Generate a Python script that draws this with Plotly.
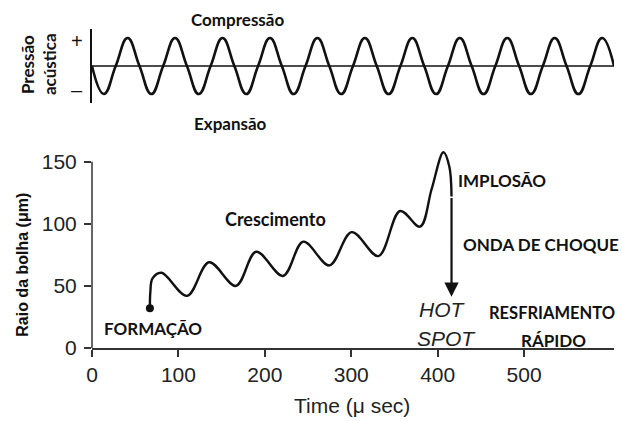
import plotly.graph_objects as go

# --- top panel: acoustic pressure wave, sampled at quarter periods (cycles) ---
wave_phase = [i * 0.25 for i in range(45)]
wave_value = [0, -1, 0, 1] * 11 + [0]

# --- bottom panel: bubble radius (um) vs time (us), key points of the curve ---
time_us = [67, 67.5, 70, 80.5, 110, 135.5, 166.5, 190, 221, 244.5, 274.7,
           300.5, 331.4, 356.5, 379.6, 393, 406.6, 413.5, 416]
radius_um = [32, 45, 56, 60.6, 42, 69, 50, 77.5, 58, 85.6, 66.5,
             93.3, 74, 110.3, 97.7, 128, 157.6, 146, 122]
hot_spot_radius = 41.3

x_ticks = [0, 100, 200, 300, 400, 500]
y_ticks = [0, 50, 100, 150]

BOLD = "Lato"
PLAIN = "Liberation Sans"
INK = "#111111"

fig = go.Figure()

fig.add_trace(go.Scatter(
    x=wave_phase, y=wave_value, mode="lines",
    line=dict(color=INK, width=2.6, shape="spline", smoothing=1.3),
    xaxis="x", yaxis="y", hoverinfo="skip", showlegend=False))

fig.add_trace(go.Scatter(
    x=time_us, y=radius_um, mode="lines",
    line=dict(color=INK, width=2.4, shape="spline", smoothing=1.0),
    xaxis="x2", yaxis="y2", showlegend=False))

fig.add_trace(go.Scatter(
    x=time_us[:1], y=radius_um[:1], mode="markers",
    marker=dict(color=INK, size=8),
    xaxis="x2", yaxis="y2", showlegend=False))


def label(txt, x, y, size=17, family=BOLD, color=INK, ref="paper", **kw):
    xr, yr = ("paper", "paper") if ref == "paper" else ("x2", "y2")
    return dict(text=txt, x=x, y=y, xref=xr, yref=yr, showarrow=False,
                xanchor="center", yanchor="middle",
                font=dict(family=family, size=size, color=color), **kw)


def bold(txt, x, y, size=17, ref="paper", **kw):
    return label(f"<b>{txt}</b>", x, y, size=size, ref=ref, **kw)


annotations = [
    # top panel labels
    bold("Compressão", 0.2778, 1.031),
    bold("Expansão", 0.2644, 0.705),
    bold("Pressão", -0.1245, 0.887, textangle=-90),
    bold("acústica", -0.0824, 0.890, textangle=-90),
    label("+", -0.0287, 0.962, size=20, family=PLAIN),
    label("\u2013", -0.0287, 0.809, size=20, family=PLAIN),
    # axis titles
    bold("Raio da bolha (\u03bcm)", -0.1347, 0.260, size=16, family=PLAIN,
         textangle=-90),
    label("Time (\u03bc sec)", 0.4990, -0.180, size=21, family=PLAIN,
          color="#222222"),
    # bottom panel labels
    bold("FORMAÇÃO", 71, 15.9, ref="data"),
    bold("Crescimento", 212, 103.9, size=18, ref="data"),
    bold("IMPLOSÃO", 474.5, 134.7, ref="data"),
    bold("ONDA DE CHOQUE", 520, 83.7, ref="data"),
    bold("RESFRIAMENTO", 532.4, 28.2, size=16.5, ref="data"),
    bold("RÁPIDO", 533.6, 6.4, ref="data"),
    label("<i>HOT</i>", 406, 31.2, size=21, family=PLAIN, color="#222222",
          ref="data"),
    label("<i>SPOT</i>", 409.7, 7.8, size=21, family=PLAIN, color="#222222",
          ref="data"),
    # shock-wave arrow down to the hot spot
    dict(x=time_us[-1], y=hot_spot_radius, ax=time_us[-1], ay=radius_um[-1],
         xref="x2", yref="y2", axref="x2", ayref="y2", text="",
         showarrow=True, arrowhead=2, arrowsize=1.3, arrowwidth=2.2,
         arrowcolor=INK, standoff=0),
]

shapes = [
    # zero line of the pressure wave
    dict(type="line", xref="x", yref="y", x0=0, x1=11, y0=0, y1=0,
         line=dict(color=INK, width=1.6)),
    # vertical radius axis stops at 150
    dict(type="line", xref="x2 domain", yref="y2", x0=0, x1=0, y0=0, y1=150,
         line=dict(color="#333333", width=1.5)),
]

fig.update_layout(
    width=622, height=421,
    margin=dict(l=92, r=8, t=29, b=73),
    paper_bgcolor="white", plot_bgcolor="white",
    showlegend=False,
    xaxis=dict(domain=[0, 1], range=[0, 11], visible=False),
    yaxis=dict(domain=[0.768, 1], range=[-1.32, 1.32], showline=True,
               linecolor=INK, linewidth=1.6, showticklabels=False,
               ticks="", showgrid=False, zeroline=False),
    xaxis2=dict(domain=[0, 1], anchor="y2", range=[0, 604],
                tickvals=x_ticks, ticks="outside", ticklen=7, tickwidth=1.5,
                tickcolor="#333333", showline=True, linecolor="#333333",
                linewidth=1.5, showgrid=False, zeroline=False,
                tickfont=dict(family=PLAIN, size=21, color="#222222")),
    yaxis2=dict(domain=[0, 0.623], anchor="x2", range=[0, 160],
                tickvals=y_ticks, ticks="outside", ticklen=7, tickwidth=1.5,
                tickcolor="#333333", showline=False, showgrid=False,
                zeroline=False, ticklabelstandoff=3,
                tickfont=dict(family=PLAIN, size=21, color="#222222")),
    annotations=annotations,
    shapes=shapes,
)

fig.write_html("out.html")
